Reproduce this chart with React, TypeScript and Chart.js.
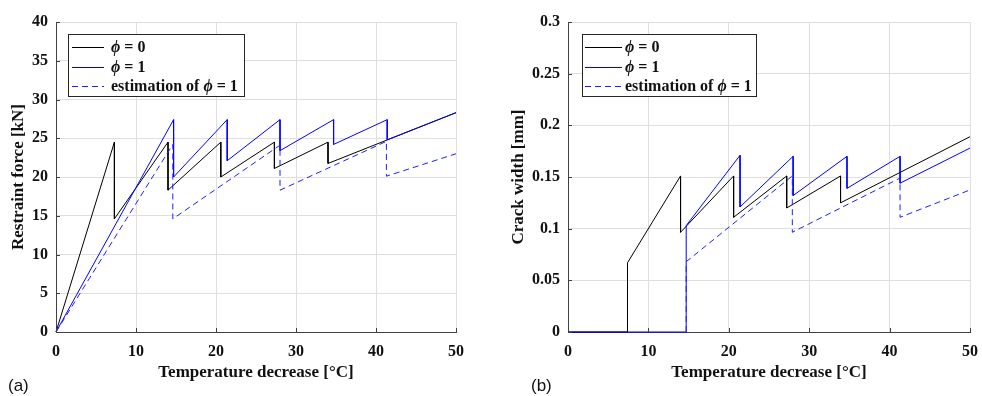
import React, { useEffect, useRef } from 'react';
import { Chart, registerables } from 'chart.js';
Chart.register(...registerables);

// ---------- data ----------
// (a) Restraint force [kN] vs temperature decrease [°C]
const phi0ForceT = [0, 7.3, 7.3, 14.0, 14.0, 20.6, 20.6, 27.3, 27.3, 34.0, 34.0, 50];
const phi0Force = [0, 24.5, 14.6, 24.5, 18.3, 24.5, 20.0, 24.5, 21.1, 24.5, 21.75, 28.3];
const phi1ForceT = [0, 14.7, 14.7, 21.4, 21.4, 28.0, 28.0, 34.7, 34.7, 41.4, 41.4, 50];
const phi1Force = [0, 27.4, 20.0, 27.4, 22.1, 27.4, 23.4, 27.4, 24.2, 27.4, 24.8, 28.3];
const estForceT = [0, 14.6, 14.6, 28.0, 28.0, 41.3, 41.3, 50];
const estForce = [0, 24.2, 14.6, 24.1, 18.3, 24.6, 20.1, 23.0];

// (b) Crack width [mm] vs temperature decrease [°C]
const phi0CrackT = [0, 7.4, 7.4, 14.0, 14.0, 20.6, 20.6, 27.2, 27.2, 33.9, 33.9, 50];
const phi0Crack = [0, 0, 0.067, 0.151, 0.0965, 0.151, 0.111, 0.151, 0.12, 0.151, 0.125, 0.189];
const phi1CrackT = [0, 14.7, 14.7, 21.4, 21.4, 28.0, 28.0, 34.7, 34.7, 41.3, 41.3, 50];
const phi1Crack = [0, 0, 0.103, 0.171, 0.121, 0.170, 0.132, 0.170, 0.139, 0.170, 0.144, 0.178];
const estCrackT = [14.7, 14.7, 27.9, 27.9, 41.3, 41.3, 50];
const estCrack = [0, 0.068, 0.151, 0.0965, 0.149, 0.111, 0.1375];

const legendLabels = ['ϕ = 0', 'ϕ = 1', 'estimation of ϕ = 1'];
const xTitle = 'Temperature decrease [°C]';
const yTitleA = 'Restraint force [kN]';
const yTitleB = 'Crack width [mm]';
const xTicks = [0, 10, 20, 30, 40, 50];
const yTicksA = [0, 5, 10, 15, 20, 25, 30, 35, 40];
const yTicksB = [0, 0.05, 0.1, 0.15, 0.2, 0.25, 0.3];

// ---------- styles ----------
const SERIF = "'Liberation Serif', 'Times New Roman', Times, serif";
const SANS = "'Liberation Sans', Arial, Helvetica, sans-serif";
const BLACK = '#000000';
const BLUE = '#0000ff';
const BLUE_DASH = '#1f1fff';
const GRID = '#dfdfdf';
const AXIS = '#404040';
const TEXT = '#111111';

const toPts = (xs: number[], ys: number[]) => xs.map((x, i) => ({ x, y: ys[i] }));

type LegendCfg = { x: number; y: number; w: number; h: number; lx0: number; lx1: number; tx: number; rows: number[] };

function legendPlugin(cfg: LegendCfg) {
  const styles = [
    { color: BLACK, dash: [] as number[] },
    { color: BLUE, dash: [] as number[] },
    { color: BLUE_DASH, dash: [6, 4] },
  ];
  return {
    id: 'customLegend',
    afterDraw(chart: any) {
      const ctx = chart.ctx as CanvasRenderingContext2D;
      ctx.save();
      ctx.fillStyle = '#ffffff';
      ctx.fillRect(cfg.x, cfg.y, cfg.w, cfg.h);
      ctx.strokeStyle = '#262626';
      ctx.lineWidth = 1;
      ctx.strokeRect(cfg.x + 0.5, cfg.y + 0.5, cfg.w, cfg.h);
      legendLabels.forEach((label, i) => {
        const yy = cfg.rows[i];
        ctx.strokeStyle = styles[i].color;
        ctx.setLineDash(styles[i].dash);
        ctx.beginPath();
        ctx.moveTo(cfg.lx0, yy + 0.5);
        ctx.lineTo(cfg.lx1, yy + 0.5);
        ctx.stroke();
        ctx.setLineDash([]);
        ctx.fillStyle = TEXT;
        ctx.textBaseline = 'middle';
        ctx.textAlign = 'left';
        let tx = cfg.tx;
        const parts = label.split(/(ϕ)/).filter((p) => p.length > 0);
        for (const p of parts) {
          ctx.font = `${p === 'ϕ' ? 'italic ' : ''}bold 16px ${SERIF}`;
          ctx.fillText(p, tx, yy + 1);
          tx += ctx.measureText(p).width;
        }
      });
      ctx.restore();
    },
  };
}

const inwardTicks = {
  id: 'inwardTicks',
  afterDatasetsDraw(chart: any) {
    const { ctx, chartArea, scales } = chart;
    ctx.save();
    ctx.strokeStyle = AXIS;
    ctx.lineWidth = 1;
    ctx.beginPath();
    scales.x.ticks.forEach((t: any) => {
      const px = Math.round(scales.x.getPixelForValue(t.value)) + 0.5;
      ctx.moveTo(px, chartArea.bottom);
      ctx.lineTo(px, chartArea.bottom - 4);
    });
    scales.y.ticks.forEach((t: any) => {
      const py = Math.round(scales.y.getPixelForValue(t.value)) + 0.5;
      ctx.moveTo(chartArea.left, py);
      ctx.lineTo(chartArea.left + 4, py);
    });
    ctx.stroke();
    ctx.restore();
  },
};

type PanelProps = {
  left: number;
  width: number;
  yWidth: number;
  padRight: number;
  yMax: number;
  yTickVals: number[];
  yTitle: string;
  yTitlePad: number;
  series: { x: number[]; y: number[] }[];
  legend: LegendCfg;
};

function Panel(p: PanelProps) {
  const ref = useRef<HTMLCanvasElement | null>(null);
  useEffect(() => {
    if (!ref.current) return;
    const tickFont = { family: SERIF, size: 16, weight: 'bold' as const };
    const common = { pointRadius: 0, tension: 0, fill: false, borderWidth: 1, clip: 4 };
    const chart = new Chart(ref.current, {
      type: 'line',
      data: {
        datasets: [
          {
            ...common,
            label: legendLabels[2],
            data: toPts(p.series[2].x, p.series[2].y),
            borderColor: BLUE_DASH,
            borderDash: [6, 4],
            order: 0,
          },
          {
            ...common,
            label: legendLabels[1],
            data: toPts(p.series[1].x, p.series[1].y),
            borderColor: BLUE,
            order: 1,
          },
          {
            ...common,
            label: legendLabels[0],
            data: toPts(p.series[0].x, p.series[0].y),
            borderColor: BLACK,
            order: 2,
          },
        ],
      },
      options: {
        animation: false,
        responsive: false,
        maintainAspectRatio: false,
        events: [],
        layout: { padding: { left: 0, right: p.padRight, top: 22, bottom: 0 } },
        plugins: { legend: { display: false }, tooltip: { enabled: false } },
        scales: {
          x: {
            type: 'linear',
            min: 0,
            max: 50,
            afterBuildTicks: (s: any) => {
              s.ticks = xTicks.map((v) => ({ value: v }));
            },
            ticks: { font: tickFont, color: TEXT, padding: 10, maxRotation: 0 },
            grid: { color: GRID, drawTicks: false, lineWidth: 1 },
            border: { display: true, color: AXIS, width: 1 },
            title: {
              display: true,
              text: xTitle,
              color: TEXT,
              font: { family: SERIF, size: 17, weight: 'bold' },
              padding: { top: 0, bottom: 13 },
            },
            afterFit: (s: any) => {
              s.height = 64;
              s.paddingRight = 0;
              s.paddingLeft = 0;
            },
          },
          y: {
            type: 'linear',
            min: 0,
            max: p.yMax,
            afterBuildTicks: (s: any) => {
              s.ticks = p.yTickVals.map((v) => ({ value: v }));
            },
            ticks: {
              font: tickFont,
              color: TEXT,
              padding: 8,
              callback: (v: any) => String(+Number(v).toFixed(2)),
            },
            grid: { color: GRID, drawTicks: false, lineWidth: 1 },
            border: { display: true, color: AXIS, width: 1 },
            title: {
              display: true,
              text: p.yTitle,
              color: TEXT,
              font: { family: SERIF, size: 17, weight: 'bold' },
              padding: { top: p.yTitlePad, bottom: 0 },
            },
            afterFit: (s: any) => {
              s.width = p.yWidth;
            },
          },
        },
      } as any,
      plugins: [inwardTicks, legendPlugin(p.legend)],
    });
    return () => chart.destroy();
  }, []);
  return (
    <canvas
      ref={ref}
      width={p.width}
      height={396}
      style={{ position: 'absolute', left: p.left, top: 0, width: p.width, height: 396 }}
    />
  );
}

export default function App() {
  return (
    <div style={{ position: 'absolute', left: 0, top: 0, width: 982, height: 396, background: '#ffffff', overflow: 'hidden' }}>
      <Panel
        left={0}
        width={491}
        yWidth={56}
        padRight={35}
        yMax={40}
        yTickVals={yTicksA}
        yTitle={yTitleA}
        yTitlePad={8}
        series={[
          { x: phi0ForceT, y: phi0Force },
          { x: phi1ForceT, y: phi1Force },
          { x: estForceT, y: estForce },
        ]}
        legend={{ x: 68, y: 34, w: 176, h: 62, lx0: 72, lx1: 104, tx: 111, rows: [47, 67, 86] }}
      />
      <Panel
        left={491}
        width={491}
        yWidth={77}
        padRight={12}
        yMax={0.3}
        yTickVals={yTicksB}
        yTitle={yTitleB}
        yTitlePad={17}
        series={[
          { x: phi0CrackT, y: phi0Crack },
          { x: phi1CrackT, y: phi1Crack },
          { x: estCrackT, y: estCrack },
        ]}
        legend={{ x: 91, y: 34, w: 174, h: 62, lx0: 94, lx1: 131, tx: 134, rows: [47, 67, 86] }}
      />
      <div style={{ position: 'absolute', left: 8, top: 377, font: `17px ${SANS}`, lineHeight: '18px', color: '#111' }}>(a)</div>
      <div style={{ position: 'absolute', left: 531, top: 377, font: `17px ${SANS}`, lineHeight: '18px', color: '#111' }}>(b)</div>
    </div>
  );
}
